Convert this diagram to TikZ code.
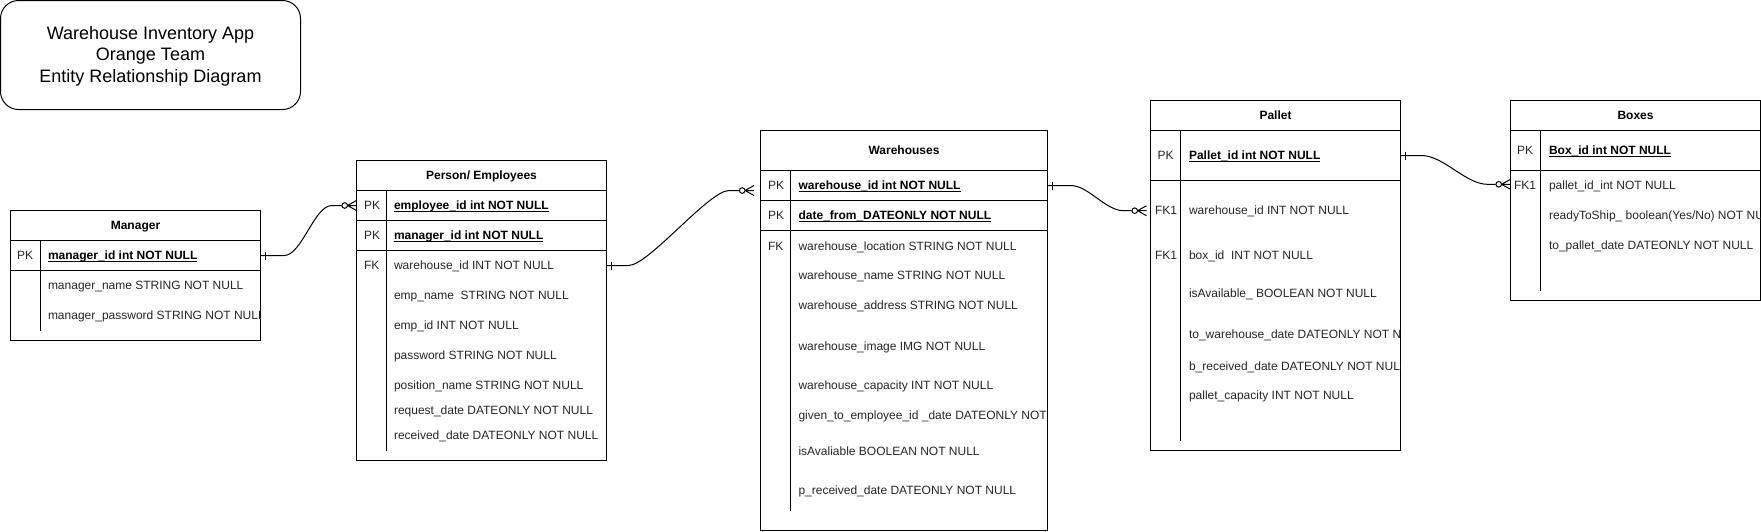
\documentclass[tikz,border=0pt]{standalone}
\usepackage{fontspec}
\setmainfont{Liberation Sans}
\usetikzlibrary{calc}
\definecolor{fldgray}{HTML}{262626}
\newcommand\ulf[1]{\setbox0=\hbox{#1}\rlap{\rule[-2.4pt]{\wd0}{0.9pt}}\box0}
\tikzset{
  tbl/.style={draw, line width=1pt, inner sep=0pt, outer sep=0pt},
  sep/.style={line width=1pt},
  rowbox/.style={inner sep=0pt, outer sep=0pt, minimum height=30pt},
  fld/.style={inner sep=0pt, outer sep=0pt, anchor=base west, text=fldgray, font=\fontsize{12}{14}\selectfont},
  pkf/.style={fld, text=black, font=\fontsize{12}{14}\selectfont\bfseries},
  hdr/.style={inner sep=0pt, outer sep=0pt, anchor=base, font=\fontsize{12}{14}\selectfont\bfseries},
  ttl/.style={inner sep=0pt, outer sep=0pt, anchor=base, font=\fontsize{18}{21.7}\selectfont},
  conn/.style={line width=1pt},
}
\newcommand\ft[4]{\node[fld] (#1) at (#2,#3+4.2) {#4};}
\newcommand\fb[4]{\node[pkf] (#1) at (#2,#3+4.2) {\ulf{#4}};}
\newcommand\hd[4]{\node[hdr] (#1) at (#2,#3+4.2) {#4};}
\newcommand\tickmark[1]{\draw[conn] ($(#1)+(5,-4)$) -- ($(#1)+(5,4)$);}
\newcommand\crowfoot[1]{%
  \draw[conn] ($(#1)+(-9,0)$) -- ($(#1)+(0,-5)$) ($(#1)+(-9,0)$) -- (#1) ($(#1)+(-9,0)$) -- ($(#1)+(0,5)$);
  \draw[conn, fill=white] ($(#1)+(-11.8,0)$) circle[radius=2.8pt];}
\begin{document}
\begin{tikzpicture}[x=1pt, y=-1pt]
\useasboundingbox (0,0) rectangle (1761,531);
\fill[white] (0,0) rectangle (1761,531);

% ---------- title ----------
\node[draw, line width=1pt, rounded corners=18pt, minimum width=300pt, minimum height=109pt, inner sep=0pt, outer sep=0pt] (title) at (150.5,55) {};
\node[ttl] (tl1) at (150.5,39.0) {Warehouse Inventory App};
\node[ttl] (tl2) at (150.5,60.5) {Orange Team};
\node[ttl] (tl3) at (150.5,82.4) {Entity Relationship Diagram};

% ---------- Manager ----------
\node[tbl, minimum width=250pt, minimum height=130pt] (mgr) at (135.5,275.5) {};
\draw[sep] (10.5,240.5) -- (260.5,240.5);
\draw[sep] (10.5,270.5) -- (260.5,270.5);
\draw[sep] (40.5,240.5) -- (40.5,330.5);
\node[rowbox, minimum width=250pt] (mgr-pk) at (135.5,255.5) {};
\begin{scope}
\clip (11,211) rectangle (260,340);
\hd{mgr-h}{135.5}{225.5}{Manager}
\ft{mgr-k1}{17}{255.5}{PK}
\fb{mgr-f1}{48}{255.5}{manager\_id int NOT NULL}
\ft{mgr-f2}{48}{285.5}{manager\_name STRING NOT NULL}
\ft{mgr-f3}{48}{315.5}{manager\_password STRING NOT NULL}
\end{scope}

% ---------- Person / Employees ----------
\node[tbl, minimum width=250pt, minimum height=300pt] (emp) at (481.5,310.5) {};
\draw[sep] (356.5,190.5) -- (606.5,190.5);
\draw[sep] (356.5,220.5) -- (606.5,220.5);
\draw[sep] (356.5,250.5) -- (606.5,250.5);
\draw[sep] (386.5,190.5) -- (386.5,450.5);
\node[rowbox, minimum width=250pt] (emp-pk1) at (481.5,205.5) {};
\node[rowbox, minimum width=250pt] (emp-fk) at (481.5,265.5) {};
\begin{scope}
\clip (357,161) rectangle (606,460);
\hd{emp-h}{481.5}{175.5}{Person/ Employees}
\ft{emp-k1}{364}{205.5}{PK}
\ft{emp-k2}{364}{235.5}{PK}
\ft{emp-k3}{364}{265.5}{FK}
\fb{emp-f1}{394}{205.5}{employee\_id int NOT NULL}
\fb{emp-f2}{394}{235.5}{manager\_id int NOT NULL}
\ft{emp-f3}{394}{265.5}{warehouse\_id INT NOT NULL}
\ft{emp-f4}{394}{295.5}{emp\_name\ \ STRING NOT NULL}
\ft{emp-f5}{394}{325.5}{emp\_id INT NOT NULL}
\ft{emp-f6}{394}{355.5}{password STRING NOT NULL}
\ft{emp-f7}{394}{385.5}{position\_name STRING NOT NULL}
\ft{emp-f8}{394}{410.7}{request\_date DATEONLY NOT NULL}
\ft{emp-f9}{394}{435.7}{received\_date DATEONLY NOT NULL}
\end{scope}

% ---------- Warehouses ----------
\node[tbl, minimum width=287pt, minimum height=399.5pt] (wh) at (904,330.25) {};
\draw[sep] (760.5,170.5) -- (1047.5,170.5);
\draw[sep] (760.5,200.5) -- (1047.5,200.5);
\draw[sep] (760.5,230.5) -- (1047.5,230.5);
\draw[sep] (790.5,170.5) -- (790.5,510.5);
\node[rowbox, minimum width=287pt] (wh-pk1) at (904,185.5) {};
\begin{scope}
\clip (761,131) rectangle (1047,530);
\hd{wh-h}{904}{150.5}{Warehouses}
\ft{wh-k1}{768}{185.5}{PK}
\ft{wh-k2}{768}{215.5}{PK}
\ft{wh-k3}{768}{246}{FK}
\fb{wh-f1}{798.5}{185.5}{warehouse\_id int NOT NULL}
\fb{wh-f2}{798.5}{215.5}{date\_from\_DATEONLY NOT NULL}
\ft{wh-f3}{798.5}{246}{warehouse\_location STRING NOT NULL}
\ft{wh-f4}{798.5}{275.7}{warehouse\_name STRING NOT NULL}
\ft{wh-f5}{798.5}{305.3}{warehouse\_address STRING NOT NULL}
\ft{wh-f6}{798.5}{346}{warehouse\_image IMG NOT NULL}
\ft{wh-f7}{798.5}{385.7}{warehouse\_capacity INT NOT NULL}
\ft{wh-f8}{798.5}{415.7}{given\_to\_employee\_id \_date DATEONLY NOT NULL}
\ft{wh-f9}{798.5}{451}{isAvaliable BOOLEAN NOT NULL}
\ft{wh-f10}{798.5}{490.7}{p\_received\_date DATEONLY NOT NULL}
\end{scope}

% ---------- Pallet ----------
\node[tbl, minimum width=250pt, minimum height=350pt] (pal) at (1275.5,275.5) {};
\draw[sep] (1150.5,130.5) -- (1400.5,130.5);
\draw[sep] (1150.5,180.5) -- (1400.5,180.5);
\draw[sep] (1180.5,130.5) -- (1180.5,440.5);
\node[rowbox, minimum width=250pt, minimum height=50pt] (pal-pk) at (1275.5,155.5) {};
\node[rowbox, minimum width=250pt] (pal-wid) at (1275.5,210.7) {};
\begin{scope}
\clip (1151,101) rectangle (1400,450);
\hd{pal-h}{1275.5}{115.5}{Pallet}
\ft{pal-k1}{1157.5}{155.5}{PK}
\ft{pal-k2}{1155}{210.7}{FK1}
\ft{pal-k3}{1155}{255.7}{FK1}
\fb{pal-f1}{1189}{155.5}{Pallet\_id int NOT NULL}
\ft{pal-f2}{1189}{210.7}{warehouse\_id INT NOT NULL}
\ft{pal-f3}{1189}{255.7}{box\_id\ \ INT NOT NULL}
\ft{pal-f4}{1189}{293.3}{isAvailable\_ BOOLEAN NOT NULL}
\ft{pal-f5}{1189}{334}{to\_warehouse\_date DATEONLY NOT NULL}
\ft{pal-f6}{1189}{366}{b\_received\_date DATEONLY NOT NULL}
\ft{pal-f7}{1189}{395.7}{pallet\_capacity INT NOT NULL}
\end{scope}

% ---------- Boxes ----------
\node[tbl, minimum width=250pt, minimum height=200pt] (box) at (1635.5,200.5) {};
\draw[sep] (1510.5,130.5) -- (1760.5,130.5);
\draw[sep] (1510.5,170.5) -- (1760.5,170.5);
\draw[sep] (1540.5,130.5) -- (1540.5,290.5);
\node[rowbox, minimum width=250pt] (box-fk) at (1635.5,185.3) {};
\begin{scope}
\clip (1511,101) rectangle (1760,300);
\hd{box-h}{1635.5}{115.5}{Boxes}
\ft{box-k1}{1517}{150.5}{PK}
\ft{box-k2}{1514}{185.3}{FK1}
\fb{box-f1}{1549}{150.5}{Box\_id int NOT NULL}
\ft{box-f2}{1549}{185.3}{pallet\_id\_int NOT NULL}
\ft{box-f3}{1549}{215.3}{readyToShip\_ boolean(Yes/No) NOT NULL}
\ft{box-f4}{1549}{245.3}{to\_pallet\_date DATEONLY NOT NULL}
\end{scope}

% ---------- connectors ----------
% Manager -> Person
\coordinate (e1) at (emp-pk1.west);
\draw[conn] (mgr-pk.east) -- ($(mgr-pk.east)+(23.5,0)$)
  .. controls ($(mgr-pk.east)+(41.5,0)$) and ($(e1)+(-42.5,0)$) .. ($(e1)+(-24.5,0)$) -- ($(e1)+(-15,0)$);
\tickmark{mgr-pk.east}
\crowfoot{e1}

% Person -> Warehouses
\coordinate (e2) at ($(wh-pk1.west)+(-6.5,5)$);
\draw[conn] (emp-fk.east) -- ($(emp-fk.east)+(22,0)$)
  .. controls ($(emp-fk.east)+(42,0)$) and ($(e2)+(-45,0)$) .. ($(e2)+(-25,0)$) -- ($(e2)+(-15,0)$);
\tickmark{emp-fk.east}
\crowfoot{e2}

% Warehouses -> Pallet
\coordinate (e3) at ($(pal-wid.west)+(-4,0)$);
\draw[conn] (wh-pk1.east) -- ($(wh-pk1.east)+(23,0)$)
  .. controls ($(wh-pk1.east)+(41,0)$) and ($(e3)+(-41,0)$) .. ($(e3)+(-23,0)$) -- ($(e3)+(-15,0)$);
\tickmark{wh-pk1.east}
\crowfoot{e3}

% Pallet -> Boxes
\coordinate (e4) at ($(box-fk.west)+(0,-1)$);
\draw[conn] (pal-pk.east) -- ($(pal-pk.east)+(21,0)$)
  .. controls ($(pal-pk.east)+(43,0)$) and ($(e4)+(-45,0)$) .. ($(e4)+(-23,0)$) -- ($(e4)+(-15,0)$);
\tickmark{pal-pk.east}
\crowfoot{e4}
\end{tikzpicture}
\end{document}
